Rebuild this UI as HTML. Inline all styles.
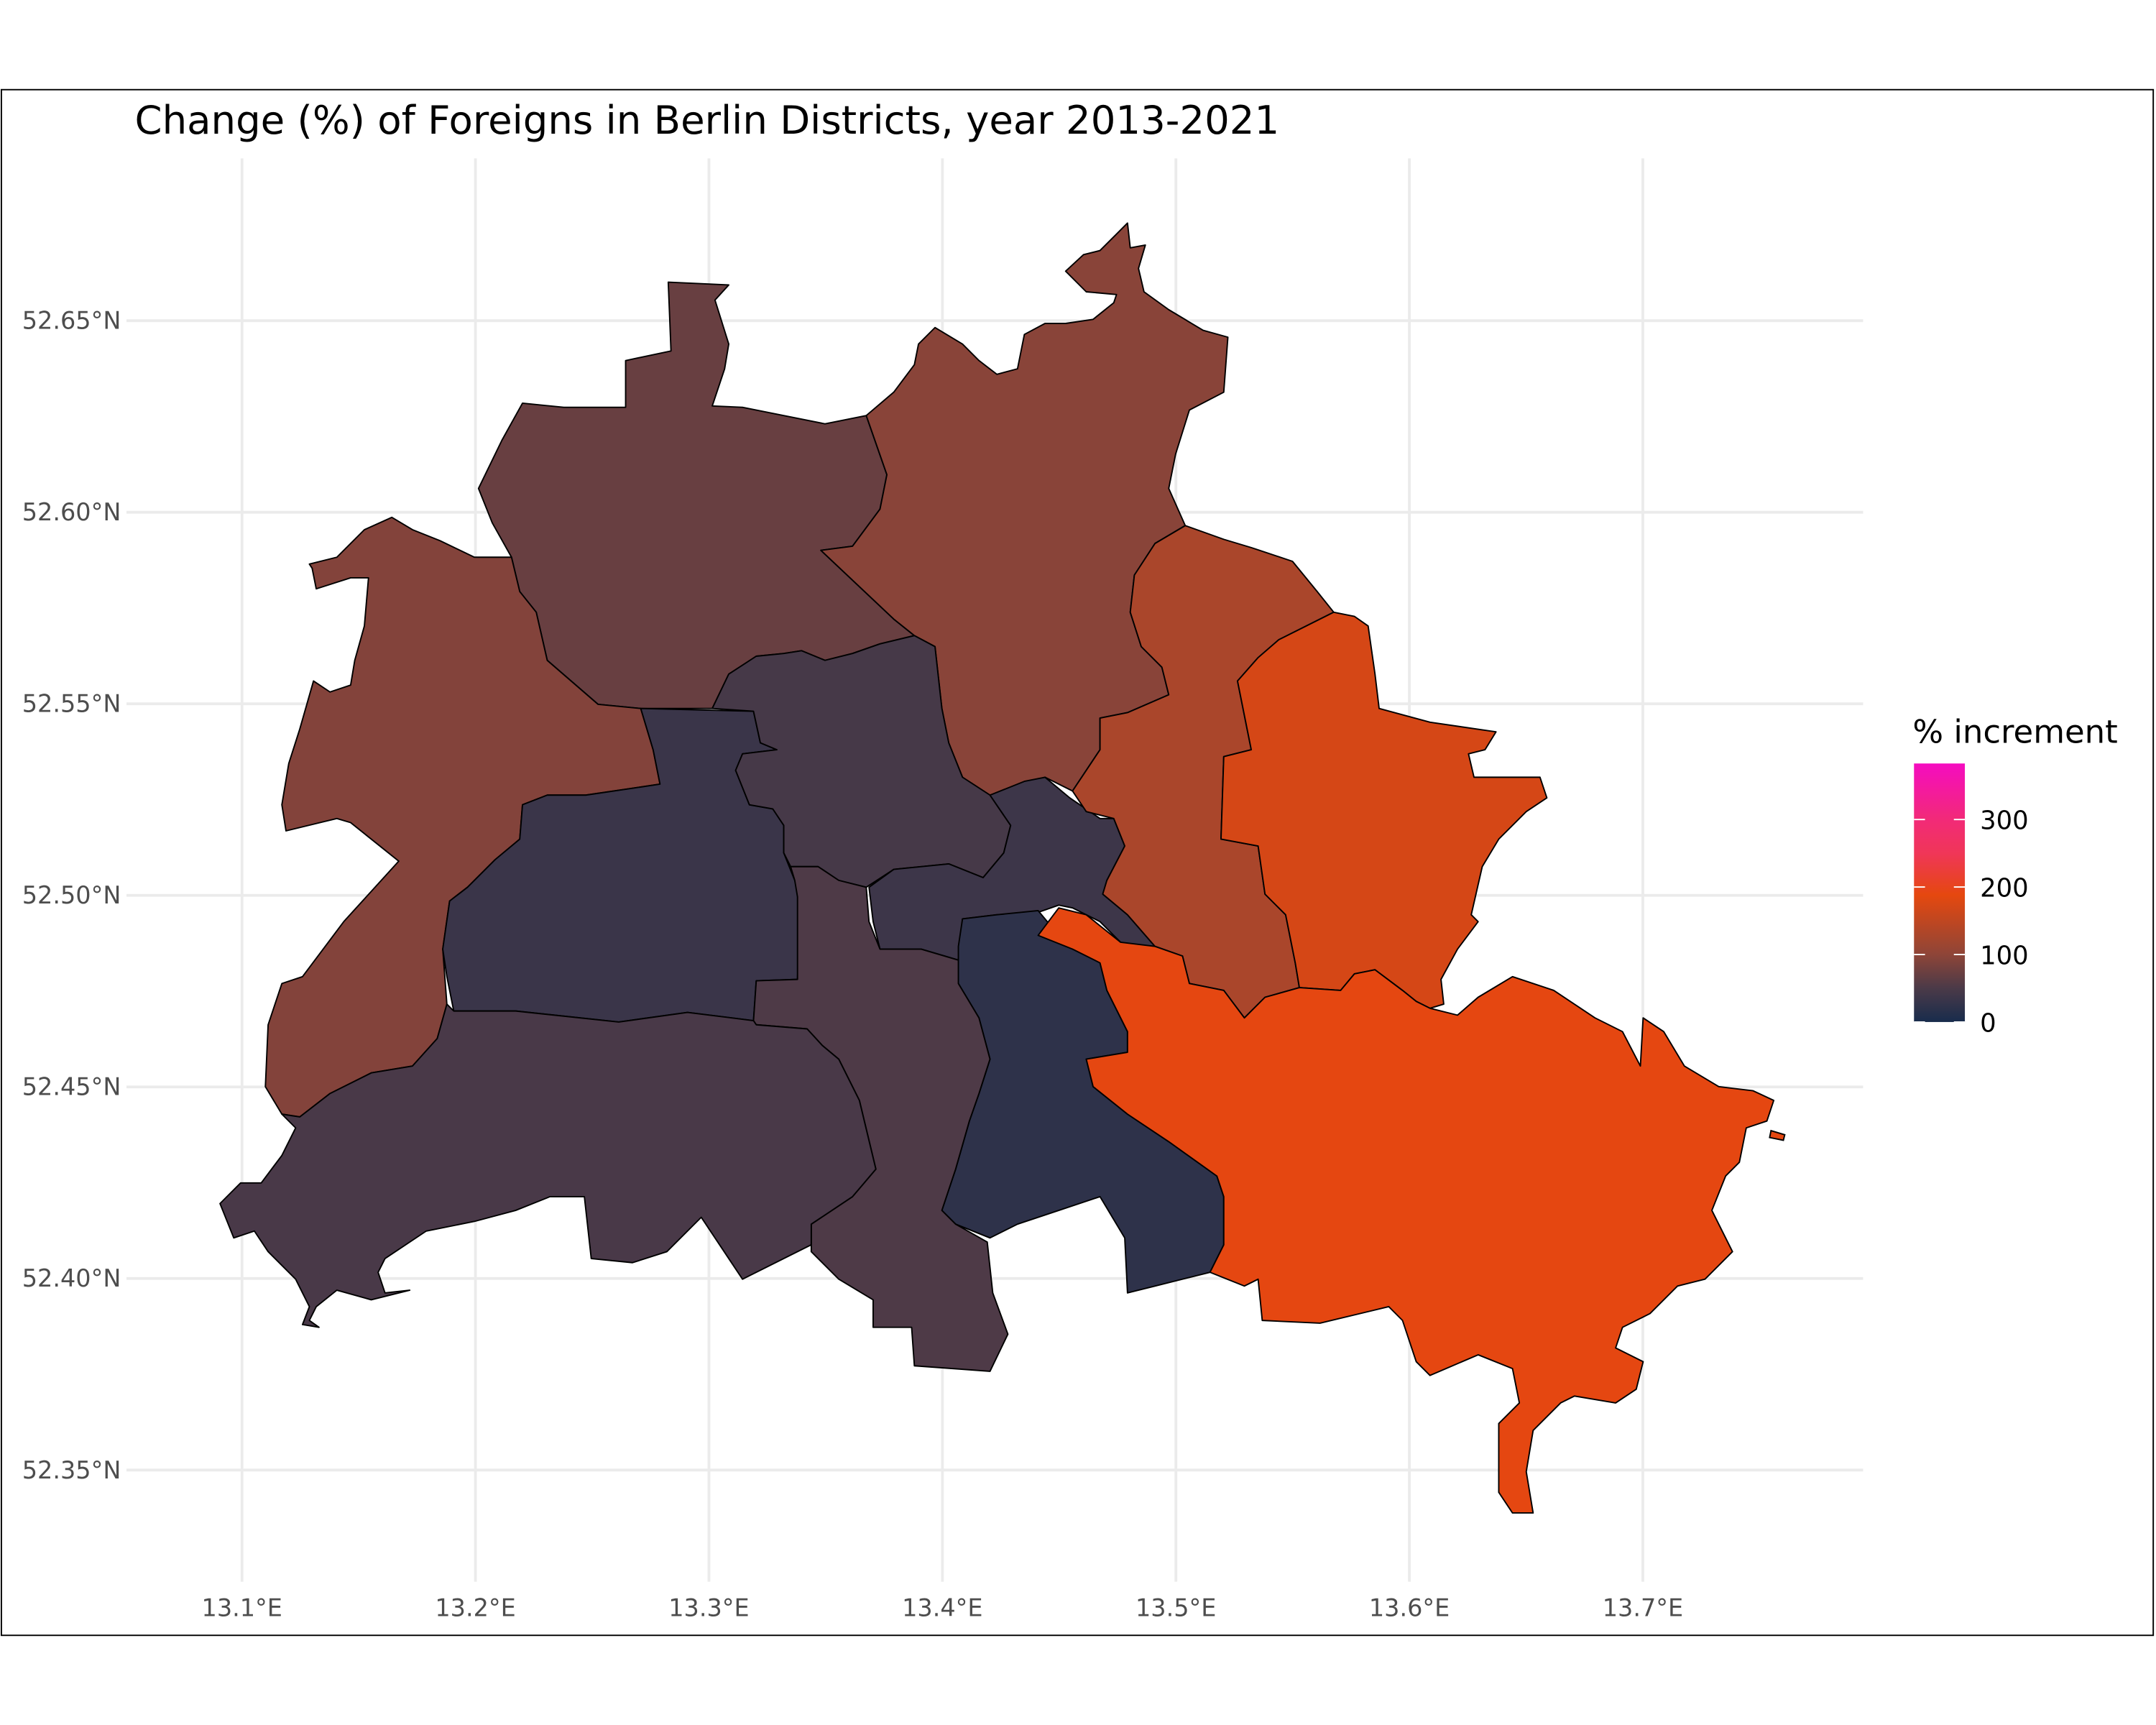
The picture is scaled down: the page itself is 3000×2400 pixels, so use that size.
<!DOCTYPE html>
<html><head><meta charset="utf-8"><style>
html,body{margin:0;padding:0;background:#fff;}
svg{display:block;font-family:"DejaVu Sans","Liberation Sans",sans-serif;}
</style></head><body>
<svg id="chart" width="3000" height="2400" viewBox="0 0 1568 1254" xmlns="http://www.w3.org/2000/svg">
<rect x="0" y="0" width="1568" height="1254" fill="#fff"/>
<rect x="1" y="65" width="1565" height="1124" fill="none" stroke="#000" stroke-width="1"/>
<text x="98" y="97" font-size="28.5" fill="#000">Change (%) of Foreigns in Berlin Districts, year 2013-2021</text>
<g id="grid"></g><g id="map"></g><g id="axes"></g><g id="legend"></g>
</svg>
<script>
const xTicks=[13.1,13.2,13.3,13.4,13.5,13.6,13.7];
const xTickLabels=["13.1°E","13.2°E","13.3°E","13.4°E","13.5°E","13.6°E","13.7°E"];
const yTicks=[52.35,52.40,52.45,52.50,52.55,52.60,52.65];
const yTickLabels=["52.35°N","52.40°N","52.45°N","52.50°N","52.55°N","52.60°N","52.65°N"];
const districts=["Reinickendorf","Pankow","Spandau","Charlottenburg-Wilmersdorf","Mitte","Friedrichshain-Kreuzberg","Neukoelln","Tempelhof-Schoeneberg","Steglitz-Zehlendorf","Lichtenberg","Marzahn-Hellersdorf","Treptow-Koepenick"];
const increments=[72,96,92,33,45,36,22,52,48,128,172,190];
const legendTicks=[0,100,200,300];
const NS="http://www.w3.org/2000/svg";
function xs(lon){return 176+(lon-13.1)*1698;}
function ys(lat){return 233+(52.65-lat)*2786;}
const shapes=[
[[380,293],[410,296],[455,296],[455,262],[488,255],[486,205],[530,207],[520,218],[530,250],[527,268],[518,295],[540,296],[570,302],[600,308],[630,302],[645,345],[640,370],[620,397],[597,400],[650,450],[665,462],[640,468],[620,475],[600,480],[583,473],[570,475],[550,477],[530,490],[518,515],[466,515],[435,512],[398,480],[390,445],[378,430],[372,405],[358,380],[348,355],[365,320]],
[[630,302],[650,285],[665,265],[668,250],[680,238],[700,250],[712,262],[725,272],[740,268],[745,243],[760,235],[775,235],[795,232],[810,220],[812,214],[790,212],[775,197],[788,185],[800,182],[812,170],[820,162],[822,180],[833,178],[828,195],[832,212],[850,225],[875,240],[893,245],[890,285],[865,298],[855,330],[850,355],[862,382],[840,395],[825,418],[822,445],[830,470],[845,485],[850,505],[820,518],[800,522],[800,545],[790,560],[780,575],[760,565],[720,578],[700,565],[690,540],[685,515],[680,470],[665,462],[650,450],[597,400],[620,397],[640,370],[645,345]],
[[225,410],[245,405],[265,385],[285,376],[300,385],[320,393],[345,405],[372,405],[378,430],[390,445],[398,480],[435,512],[466,515],[475,545],[480,570],[460,573],[426,578],[398,578],[380,585],[378,610],[360,625],[340,645],[327,655],[322,690],[325,730],[318,755],[300,775],[270,780],[240,795],[218,812],[205,810],[193,790],[195,745],[205,715],[220,710],[250,670],[290,626],[255,598],[245,595],[208,604],[205,585],[210,555],[218,530],[228,495],[240,503],[255,498],[258,480],[265,455],[268,420],[255,420],[230,428],[227,413]],
[[466,515],[548,517],[553,540],[565,545],[540,548],[535,560],[545,585],[562,588],[570,600],[570,620],[578,640],[582,652],[580,712],[550,713],[548,742],[500,736],[450,743],[375,735],[330,735],[325,710],[322,690],[327,655],[340,645],[360,625],[378,610],[380,585],[398,578],[426,578],[460,573],[480,570],[475,545]],
[[530,490],[550,477],[570,475],[583,473],[600,480],[620,475],[640,468],[665,462],[680,470],[685,515],[690,540],[700,565],[720,578],[735,600],[730,620],[715,638],[690,628],[650,632],[630,645],[610,640],[595,630],[575,630],[570,620],[570,600],[562,588],[545,585],[535,560],[540,548],[565,545],[553,540],[548,517],[518,515]],
[[720,578],[745,568],[760,565],[778,580],[800,595],[810,595],[818,615],[805,640],[802,650],[820,665],[840,688],[820,690],[800,670],[780,660],[770,658],[750,665],[725,665],[700,668],[697,698],[670,690],[640,690],[635,670],[632,645],[650,632],[690,628],[715,638],[730,620],[735,600]],
[[697,688],[700,668],[725,665],[755,662],[770,680],[790,690],[800,700],[805,720],[820,750],[820,765],[790,770],[795,790],[820,810],[850,830],[885,855],[890,870],[890,905],[880,925],[840,935],[820,940],[818,900],[800,870],[770,880],[740,890],[720,900],[695,890],[685,880],[695,850],[705,815],[712,795],[720,770],[712,740],[697,715]],
[[580,652],[578,640],[575,630],[595,630],[610,640],[630,645],[632,670],[640,690],[670,690],[697,698],[697,715],[712,740],[720,770],[712,795],[705,815],[695,850],[685,880],[695,890],[718,903],[722,940],[733,970],[720,997],[665,993],[663,965],[635,965],[635,945],[610,930],[590,910],[590,890],[620,870],[637,850],[625,800],[610,770],[598,760],[587,748],[550,745],[548,742],[550,713],[580,712]],
[[205,810],[218,812],[240,795],[270,780],[300,775],[318,755],[325,730],[330,735],[375,735],[450,743],[500,736],[548,742],[550,745],[587,748],[598,760],[610,770],[625,800],[637,850],[620,870],[590,890],[590,905],[540,930],[510,885],[485,910],[460,918],[430,915],[425,870],[400,870],[375,880],[345,888],[310,895],[280,915],[275,925],[280,940],[298,938],[270,945],[245,938],[230,950],[225,960],[232,965],[220,963],[225,950],[215,930],[195,910],[185,895],[170,900],[160,875],[175,860],[190,860],[205,840],[215,820]],
[[862,382],[890,392],[910,398],[940,408],[958,430],[970,445],[930,465],[915,478],[900,495],[910,545],[890,550],[888,610],[915,615],[920,650],[935,665],[942,700],[945,718],[920,725],[905,740],[890,720],[865,715],[860,695],[840,688],[820,665],[802,650],[805,640],[818,615],[810,595],[790,590],[780,575],[790,560],[800,545],[800,522],[820,518],[850,505],[845,485],[830,470],[822,445],[825,418],[840,395]],
[[970,445],[985,448],[995,455],[1000,490],[1003,515],[1040,525],[1088,532],[1080,545],[1068,548],[1072,565],[1120,565],[1125,580],[1110,590],[1090,610],[1078,630],[1070,665],[1075,670],[1060,690],[1048,712],[1050,730],[1040,733],[1030,728],[1020,720],[1000,705],[985,708],[975,720],[945,718],[942,700],[935,665],[920,650],[915,615],[888,610],[890,550],[910,545],[900,495],[915,478],[930,465]],
[[755,680],[770,660],[790,665],[815,685],[840,688],[860,695],[865,715],[890,720],[905,740],[920,725],[945,718],[975,720],[985,708],[1000,705],[1020,720],[1030,728],[1040,733],[1060,738],[1075,725],[1100,710],[1130,720],[1160,740],[1180,750],[1193,775],[1195,740],[1210,750],[1225,775],[1250,790],[1275,793],[1290,800],[1285,815],[1270,820],[1265,845],[1255,855],[1245,880],[1260,910],[1240,930],[1220,935],[1200,955],[1180,965],[1175,980],[1195,990],[1190,1010],[1175,1020],[1145,1015],[1135,1020],[1115,1040],[1110,1070],[1115,1100],[1100,1100],[1090,1085],[1090,1035],[1105,1020],[1100,995],[1075,985],[1040,1000],[1030,990],[1020,960],[1010,950],[960,962],[918,960],[915,930],[905,935],[880,925],[890,905],[890,870],[885,855],[850,830],[820,810],[795,790],[790,770],[820,765],[820,750],[805,720],[800,700],[780,690]]
];
const stops=[[0,[24,44,76]],[50,[75,58,72]],[100,[142,69,56]],[188,[229,72,15]],[250,[240,54,88]],[300,[242,42,120]],[383,[245,12,192]]];
function color(v){
  for(let i=1;i<stops.length;i++){if(v<=stops[i][0]){const a=stops[i-1],b=stops[i];const t=(v-a[0])/(b[0]-a[0]);
    return "rgb("+a[1].map((c,k)=>Math.round(c+(b[1][k]-c)*t)).join(",")+")";}}
  return "rgb(245,12,192)";
}
const grid=document.getElementById('grid'),axes=document.getElementById('axes'),map=document.getElementById('map'),leg=document.getElementById('legend');
xTicks.forEach((t,i)=>{const l=document.createElementNS(NS,'line');


l.setAttribute('x1',xs(t));l.setAttribute('x2',xs(t));l.setAttribute('y1',115);l.setAttribute('y2',1150);l.setAttribute('stroke','#ebebeb');l.setAttribute('stroke-width','2');grid.appendChild(l);
const tx=document.createElementNS(NS,'text');


tx.setAttribute('x',xs(t));tx.setAttribute('y',1175);tx.setAttribute('text-anchor','middle');tx.setAttribute('font-size','17.5');tx.setAttribute('fill','#4d4d4d');tx.textContent=xTickLabels[i];axes.appendChild(tx);});
yTicks.forEach((t,i)=>{const l=document.createElementNS(NS,'line');


l.setAttribute('x1',92);l.setAttribute('x2',1355);l.setAttribute('y1',ys(t));l.setAttribute('y2',ys(t));l.setAttribute('stroke','#ebebeb');l.setAttribute('stroke-width','2');grid.appendChild(l);
const tx=document.createElementNS(NS,'text');


tx.setAttribute('x',88);tx.setAttribute('y',ys(t)+6);tx.setAttribute('text-anchor','end');tx.setAttribute('font-size','17.5');tx.setAttribute('fill','#4d4d4d');tx.textContent=yTickLabels[i];axes.appendChild(tx);});
districts.forEach((d,i)=>{const p=document.createElementNS(NS,'polygon');


p.setAttribute('points',shapes[i].map(q=>q.join(',')).join(' '));p.setAttribute('fill',color(increments[i]));p.setAttribute('stroke','#000');p.setAttribute('stroke-width','1');p.setAttribute('stroke-linejoin','round');map.appendChild(p);});
const isl=document.createElementNS(NS,'polygon');


isl.setAttribute('points','1288,822 1298,825 1297,829 1287,827');isl.setAttribute('fill',color(increments[11]));isl.setAttribute('stroke','#000');isl.setAttribute('stroke-width','1');map.appendChild(isl);
const lx=1392,ltop=555,lbot=743,lmax=383;
function ly(v){return lbot-(v/lmax)*(lbot-ltop);}
const defs=document.createElementNS(NS,'defs');const g=document.createElementNS(NS,'linearGradient');g.setAttribute('id','lg');g.setAttribute('x1','0');g.setAttribute('y1','1');g.setAttribute('x2','0');g.setAttribute('y2','0');
stops.forEach(s=>{const st=document.createElementNS(NS,'stop');st.setAttribute('offset',Math.min(1,s[0]/lmax));st.setAttribute('stop-color',color(s[0]));g.appendChild(st);});
defs.appendChild(g);leg.appendChild(defs);
const lt=document.createElementNS(NS,'text');


lt.setAttribute('x',1391);lt.setAttribute('y',540);lt.setAttribute('font-size','23.5');lt.textContent='% increment';leg.appendChild(lt);
const bar=document.createElementNS(NS,'rect');


bar.setAttribute('x',lx);bar.setAttribute('y',ltop);bar.setAttribute('width',37);bar.setAttribute('height',lbot-ltop);bar.setAttribute('fill','url(#lg)');leg.appendChild(bar);
legendTicks.forEach(v=>{[[lx,lx+8],[lx+29,lx+37]].forEach(a=>{const t=document.createElementNS(NS,'line');


t.setAttribute('x1',a[0]);t.setAttribute('x2',a[1]);t.setAttribute('y1',ly(v));t.setAttribute('y2',ly(v));t.setAttribute('stroke','#fff');t.setAttribute('stroke-width','1');leg.appendChild(t);});
const tx=document.createElementNS(NS,'text');


tx.setAttribute('x',1440);tx.setAttribute('y',ly(v)+7);tx.setAttribute('font-size','18.5');tx.textContent=v;leg.appendChild(tx);});
</script>
</body></html>
